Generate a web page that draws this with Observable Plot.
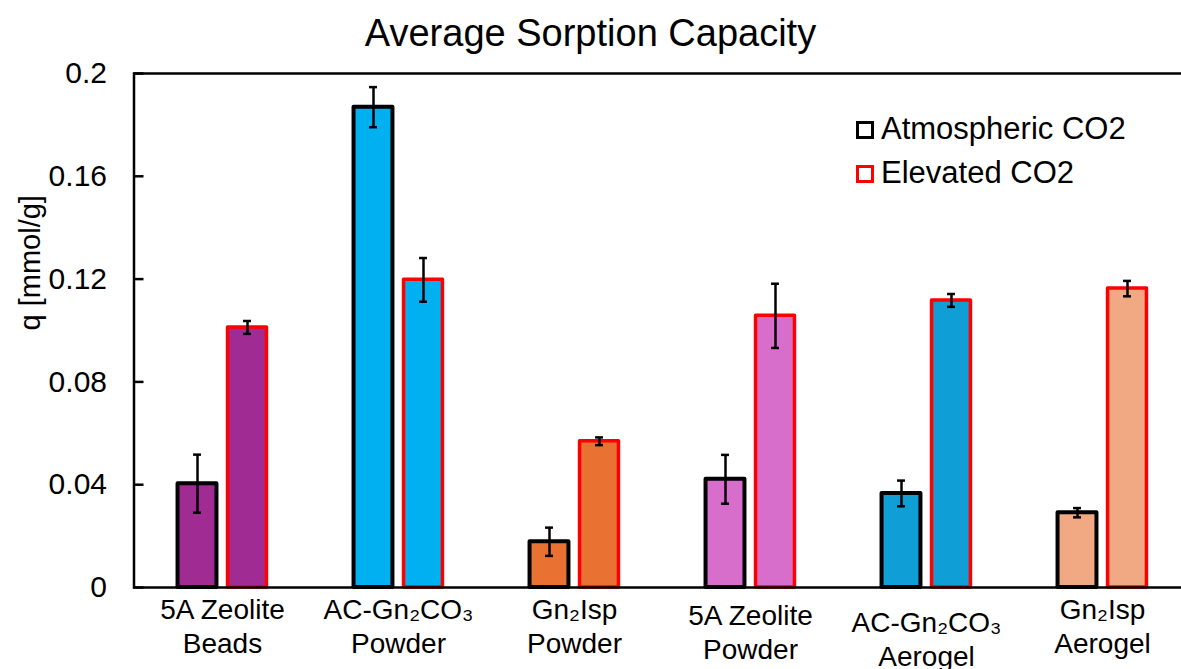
<!DOCTYPE html>
<html>
<head>
<meta charset="utf-8">
<script src="https://cdn.jsdelivr.net/npm/d3@7"></script>
<script src="https://cdn.jsdelivr.net/npm/@observablehq/plot@0.6"></script>
<style>
  html, body { margin: 0; padding: 0; background: #fff; overflow: hidden; }
  #wrap { position: relative; width: 1181px; height: 669px; overflow: hidden; font-family: "Liberation Sans", Arial, sans-serif; }
  #title { position: absolute; left: 0; top: 13.8px; width: 1181px; text-align: center; font-size: 38px; line-height: 38px; color: #000; }
  .lg-box { position: absolute; width: 18px; height: 18px; box-sizing: border-box; border: 3.5px solid #000; background: #fff; }
  .lg-text { position: absolute; font-size: 31px; line-height: 31px; color: #000; white-space: nowrap; }
  #chart { position: absolute; left: 0; top: 0; }
  #chart svg { max-width: none !important; }
</style>
</head>
<body>
<div id="wrap">
  <div id="chart"></div>
  <div id="title"></div>
  <div id="legend"></div>
</div>
<script>
// ---- data ----
const titleText = "Average Sorption Capacity";
const yLabel = "q [mmol/g]";
const materials = ["5A Zeolite Beads", "AC-Gn2CO3 Powder", "Gn2Isp Powder", "5A Zeolite Powder", "AC-Gn2CO3 Aerogel", "Gn2Isp Aerogel"];
const materialLabels = ["5A Zeolite\nBeads", "AC-Gn\u2082CO\u2083\nPowder", "Gn\u2082Isp\nPowder", "5A Zeolite\nPowder", "AC-Gn\u2082CO\u2083\nAerogel", "Gn\u2082Isp\nAerogel"];
const materialColors = ["#A02B93", "#00B0F0", "#E97132", "#D86ECC", "#0F9ED5", "#F1A983"];
const seriesNames = ["Atmospheric CO2", "Elevated CO2"];
const seriesStroke = ["#000000", "#FF0000"];
const atmMean = [0.0404, 0.1869, 0.0178, 0.0421, 0.0366, 0.0291];
const atmErr  = [0.0113, 0.0078, 0.0055, 0.0095, 0.0050, 0.0018];
const elevMean = [0.1012, 0.1197, 0.0569, 0.1057, 0.1117, 0.1163];
const elevErr  = [0.0025, 0.0085, 0.0015, 0.0125, 0.0025, 0.0030];
const yTicks = [0, 0.04, 0.08, 0.12, 0.16, 0.2];
const yTickLabels = ["0", "0.04", "0.08", "0.12", "0.16", "0.2"];

// ---- build tables ----
const atmRows = materials.map((m, i) => ({material: m, value: atmMean[i], err: atmErr[i], color: materialColors[i]}));
const elevRows = materials.map((m, i) => ({material: m, value: elevMean[i], err: elevErr[i], color: materialColors[i]}));
const labelOf = Object.fromEntries(materials.map((m, i) => [m, materialLabels[i]]));

const W = 1190, H = 669, ML = 133.5, MT = 73, MB = 82;
const band = (W - ML) / materials.length;   // ~176
const half = band / 2;
const off = 25, bw = 39, cap = 4;

const barOpts = (k) => {
  const c = half + (k === 0 ? -off : off);
  return {insetLeft: c - bw / 2, insetRight: band - (c + bw / 2)};
};
const capOpts = (k) => {
  const c = half + (k === 0 ? -off : off);
  return {insetLeft: c - cap, insetRight: band - (c + cap)};
};

const labelGroups = [
  {names: [materials[0], materials[1], materials[2], materials[5]], dy: 7},
  {names: [materials[3]], dy: 13},
  {names: [materials[4]], dy: 20}
];

const marks = [
  // bars
  Plot.barY(atmRows, {x: "material", y: "value", fill: "color", stroke: seriesStroke[0], strokeWidth: 4, strokeLinejoin: "round", ...barOpts(0)}),
  Plot.barY(elevRows, {x: "material", y: "value", fill: "color", stroke: seriesStroke[1], strokeWidth: 3.5, strokeLinejoin: "round", ...barOpts(1)}),
  // error bars
  Plot.ruleX(atmRows, {x: "material", y1: d => d.value - d.err, y2: d => d.value + d.err, dx: -off, stroke: "#000", strokeWidth: 2.5}),
  Plot.ruleX(elevRows, {x: "material", y1: d => d.value - d.err, y2: d => d.value + d.err, dx: off, stroke: "#000", strokeWidth: 2.5}),
  Plot.tickY(atmRows, {x: "material", y: d => d.value + d.err, stroke: "#000", strokeWidth: 2.5, ...capOpts(0)}),
  Plot.tickY(atmRows, {x: "material", y: d => d.value - d.err, stroke: "#000", strokeWidth: 2.5, ...capOpts(0)}),
  Plot.tickY(elevRows, {x: "material", y: d => d.value + d.err, stroke: "#000", strokeWidth: 2.5, ...capOpts(1)}),
  Plot.tickY(elevRows, {x: "material", y: d => d.value - d.err, stroke: "#000", strokeWidth: 2.5, ...capOpts(1)}),
  // frame
  Plot.frame({stroke: "#000", strokeWidth: 2.5}),
  // inward y ticks
  Plot.ruleY(yTicks, {y: d => d, stroke: "#000", strokeWidth: 2.5, insetRight: (W - ML) - 10}),
  // y tick labels
  Plot.axisY({ticks: yTicks, tickSize: 0, tickPadding: 27, fontSize: 30, label: null, tickFormat: d => yTickLabels[yTicks.indexOf(d)], fill: "#000"}),
  // y label
  Plot.text([yLabel], {frameAnchor: "left", dx: -103.5, rotate: -90, fontSize: 29, fill: "#000", text: d => d}),
  // x labels
  ...labelGroups.map(g => Plot.text(g.names, {x: d => d, text: d => labelOf[d], frameAnchor: "bottom", lineAnchor: "top", dy: g.dy, fontSize: 28, lineHeight: 1.22, fill: "#000"}))
];

const chart = Plot.plot({
  width: W, height: H,
  marginLeft: ML, marginRight: 0, marginTop: MT, marginBottom: MB,
  x: {domain: materials, padding: 0, axis: null},
  y: {domain: [0, 0.2], axis: null},
  color: {type: "identity"},
  style: {fontFamily: "'Liberation Sans', Arial, sans-serif", background: "transparent", color: "#000", overflow: "visible"},
  marks
});
chart.style.maxWidth = "none";
chart.style.width = W + "px";
chart.style.height = H + "px";
document.getElementById("chart").appendChild(chart);
document.getElementById("title").textContent = titleText;

// legend
const lg = document.getElementById("legend");
const boxTops = [121, 165];
const textTops = [112.75, 156.75];
seriesNames.forEach((name, i) => {
  const b = document.createElement("div");
  b.className = "lg-box";
  b.style.left = "856px";
  b.style.top = boxTops[i] + "px";
  b.style.borderColor = seriesStroke[i];
  lg.appendChild(b);
  const t = document.createElement("div");
  t.className = "lg-text";
  t.style.left = "881px";
  t.style.top = textTops[i] + "px";
  t.textContent = name;
  lg.appendChild(t);
});
</script>
</body>
</html>
